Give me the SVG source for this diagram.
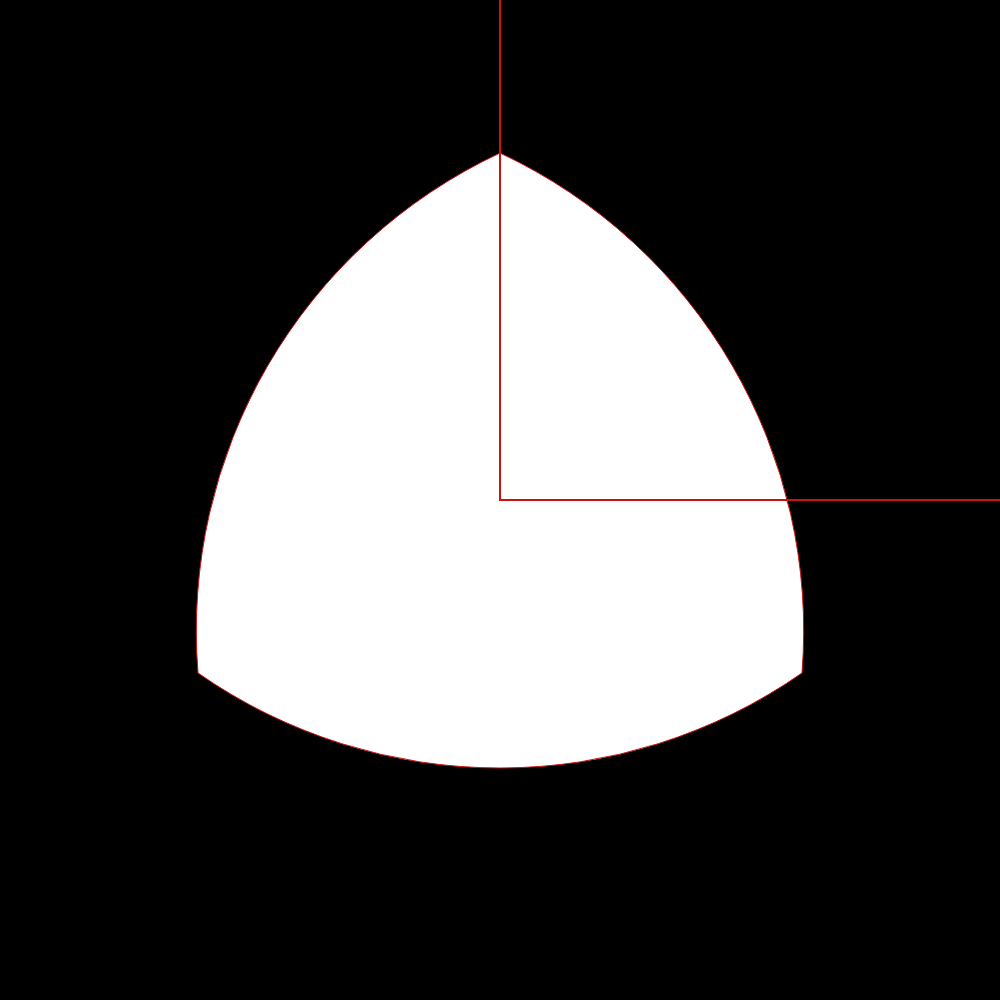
<svg xmlns="http://www.w3.org/2000/svg" width="1000" height="1000" viewBox="0 0 1000 1000">
<style>
.bg{fill:#000}
.shape{fill:#fff;stroke:#cc1111;stroke-width:1}
.axis{fill:none;stroke:#cc1111;stroke-width:2}
</style>
<rect class="bg" x="0" y="0" width="1000" height="1000"/>
<g id="reuleaux">
<path class="shape" d="M500,153 A527.5,527.5 0 0 1 802,673 A527.5,527.5 0 0 1 198,673 A527.5,527.5 0 0 1 500,153 Z"/>
</g>
<g id="connectors">
<path class="axis" d="M500,0 L500,500 L1000,500"/>
</g>
</svg>
